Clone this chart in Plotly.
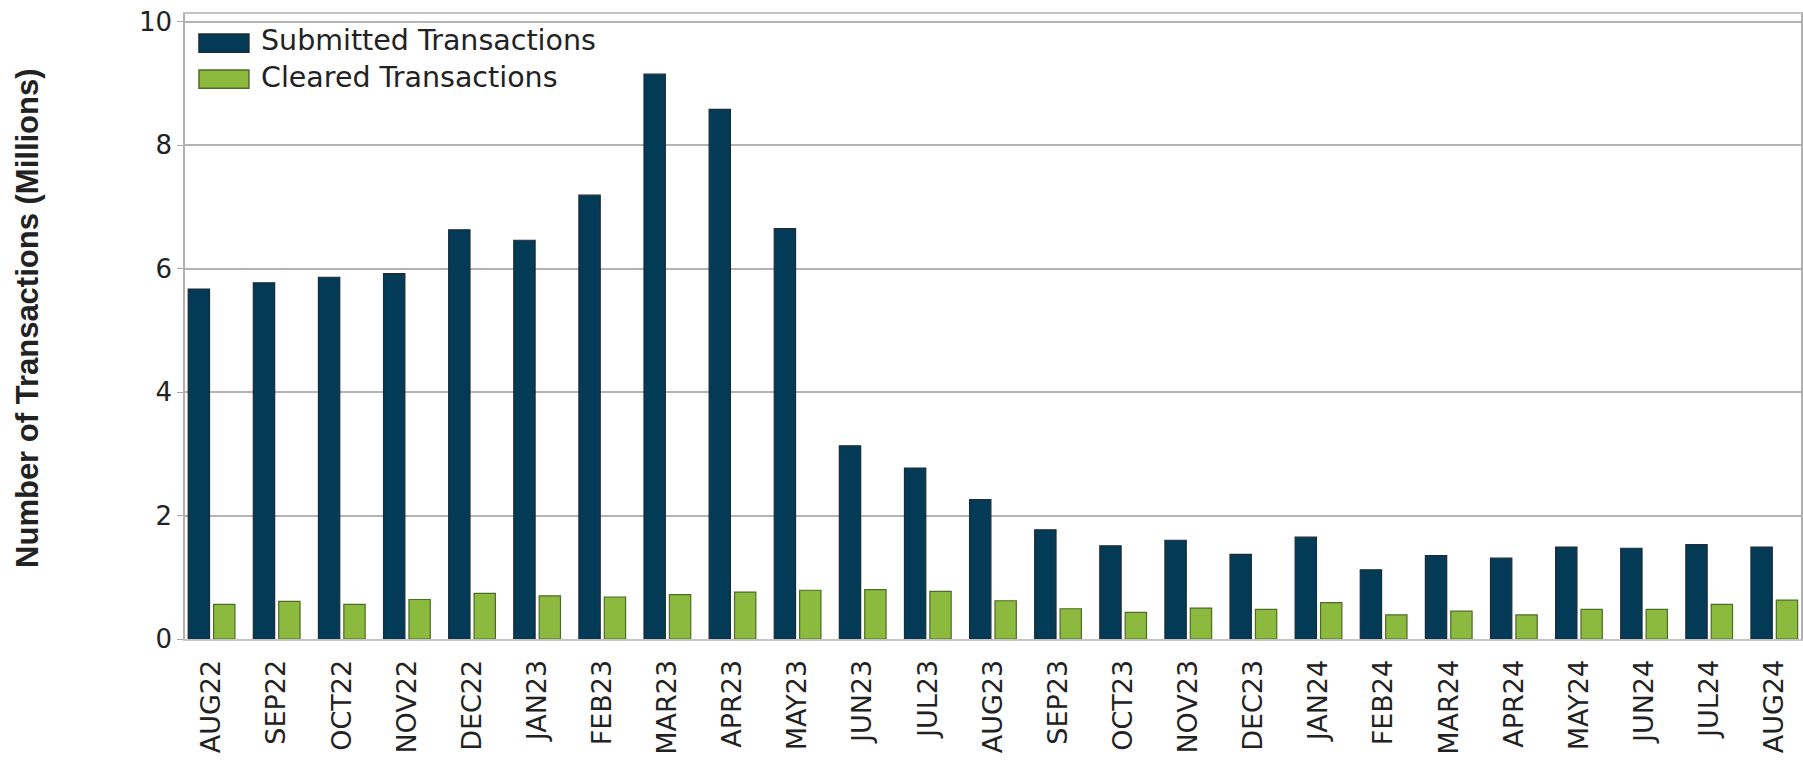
import plotly.graph_objects as go

months = ["AUG22", "SEP22", "OCT22", "NOV22", "DEC22", "JAN23", "FEB23", "MAR23", "APR23",
          "MAY23", "JUN23", "JUL23", "AUG23", "SEP23", "OCT23", "NOV23", "DEC23", "JAN24",
          "FEB24", "MAR24", "APR24", "MAY24", "JUN24", "JUL24", "AUG24"]
submitted = [5.67, 5.77, 5.86, 5.92, 6.63, 6.46, 7.19, 9.15, 8.58, 6.65, 3.13, 2.77, 2.26,
             1.77, 1.51, 1.60, 1.37, 1.65, 1.12, 1.35, 1.31, 1.49, 1.47, 1.53, 1.49]
cleared = [0.56, 0.61, 0.56, 0.64, 0.74, 0.70, 0.68, 0.72, 0.76, 0.79, 0.80, 0.77, 0.62,
           0.49, 0.43, 0.50, 0.48, 0.59, 0.39, 0.45, 0.39, 0.48, 0.48, 0.56, 0.63]
y_ticks = [0, 2, 4, 6, 8, 10]
series_names = ["Submitted Transactions", "Cleared Transactions"]
fill_colors = ["#033a56", "#8bba3e"]
edge_colors = ["#1c2c38", "#4f6b28"]

W, H = 1803, 762
L, T, B = 185, 14, 123
PW, PH = W - L, H - T - B


def px_x(p):
    return (p - L) / PW


def px_y(p):
    return (H - B - p) / PH


fig = go.Figure()
for name, vals, fc, ec in zip(series_names, [submitted, cleared], fill_colors, edge_colors):
    fig.add_trace(go.Bar(x=months, y=vals, name=name, showlegend=False,
                         marker=dict(color=fc, line=dict(color=ec, width=1.2))))

fig.update_layout(
    width=W, height=H,
    margin=dict(l=L, r=0, t=T, b=B, pad=0),
    paper_bgcolor="white", plot_bgcolor="white",
    barmode="group", bargap=0.22, bargroupgap=0.16,
    font=dict(family="DejaVu Sans", color="#222222"),
)
fig.update_xaxes(
    type="category", range=[-0.408, 24.41],
    tickangle=-90, tickfont=dict(size=27, family="DejaVu Sans", color="#222222"),
    showgrid=False, ticks="", ticklabelstandoff=8,
    showline=True, linecolor="#c4c4c4", linewidth=2, mirror=True,
)
fig.update_yaxes(
    range=[0, 10.125], tickvals=y_ticks,
    tickfont=dict(size=26, family="DejaVu Sans", color="#222222"),
    showgrid=True, gridcolor="#b4b4b4", gridwidth=1.5,
    ticks="outside", ticklen=6, tickcolor="#a8a8a8",
    showline=True, linecolor="#b0b0b0", linewidth=1.5, mirror=True,
    zeroline=False,
)

# legend (swatches + labels)
rows = [(34, 52.3, 40.5), (70, 88.3, 77)]
for (y0, y1, yc), name, fc, ec in zip(rows, series_names, fill_colors, edge_colors):
    fig.add_shape(type="rect", xref="paper", yref="paper",
                  x0=px_x(199), x1=px_x(249), y0=px_y(y1), y1=px_y(y0),
                  fillcolor=fc, line=dict(color=ec, width=1.5), layer="above")
    fig.add_annotation(text=name, xref="paper", yref="paper", x=px_x(259), y=px_y(yc),
                       xanchor="left", yanchor="middle", showarrow=False,
                       font=dict(size=28.5, family="DejaVu Sans", color="#222222"))

fig.add_annotation(
    text="<b>Number of Transactions (Millions)</b>", textangle=-90,
    xref="paper", yref="paper", x=px_x(28), y=0.514,
    xanchor="center", yanchor="middle", showarrow=False,
    font=dict(size=31, family="Liberation Sans", color="#222222"),
)

fig.write_html("out.html", config={"displayModeBar": False},
               post_script="document.body.style.margin='0';document.body.style.overflow='hidden';")
